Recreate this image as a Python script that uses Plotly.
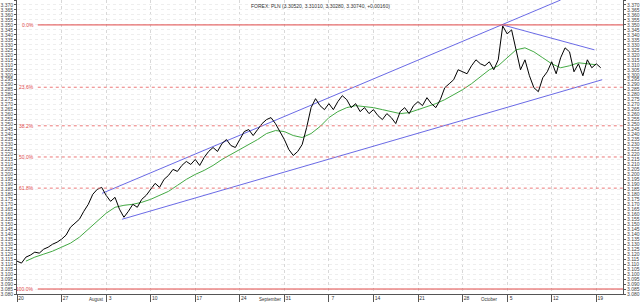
import pandas as pd
import plotly.graph_objects as go

title_text = "FOREX: PLN (3.30520, 3.31010, 3.30280, 3.30740, +0.00160)"

# price, two readings per trading day (00:00 and 12:00), from 20 Jul 2015
price = [
    3.113, 3.111, 3.117, 3.119, 3.122, 3.121, 3.125, 3.127, 3.130, 3.132,
    3.135, 3.139, 3.147, 3.151, 3.155, 3.163, 3.170, 3.180, 3.185, 3.187,
    3.179, 3.173, 3.177, 3.165, 3.157, 3.163, 3.170, 3.167, 3.175, 3.179,
    3.185, 3.191, 3.187, 3.195, 3.199, 3.205, 3.203, 3.209, 3.213, 3.210,
    3.215, 3.209, 3.217, 3.223, 3.227, 3.223, 3.231, 3.235, 3.229, 3.227,
    3.235, 3.243, 3.245, 3.239, 3.245, 3.251, 3.255, 3.257, 3.251, 3.243,
    3.235, 3.225, 3.219, 3.223, 3.230, 3.247, 3.267, 3.276, 3.269, 3.265,
    3.271, 3.265, 3.273, 3.279, 3.275, 3.267, 3.271, 3.263, 3.267, 3.261,
    3.265, 3.259, 3.255, 3.261, 3.257, 3.251, 3.263, 3.267, 3.261, 3.269,
    3.273, 3.269, 3.277, 3.271, 3.267, 3.275, 3.287, 3.291, 3.295, 3.305,
    3.303, 3.301, 3.309, 3.315, 3.311, 3.309, 3.313, 3.305, 3.315, 3.349,
    3.341, 3.345, 3.325, 3.305, 3.315, 3.299, 3.287, 3.283, 3.297, 3.303,
    3.313, 3.301, 3.317, 3.327, 3.323, 3.303, 3.311, 3.299, 3.315, 3.307,
    3.311, 3.307,
]

# moving average, one reading per trading day (00:00), from 21 Jul 2015
ma = [
    3.113, 3.117, 3.120, 3.123, 3.127, 3.131, 3.137, 3.145, 3.153, 3.161,
    3.167, 3.169, 3.170, 3.172, 3.175, 3.179, 3.183, 3.189, 3.195, 3.200,
    3.204, 3.209, 3.215, 3.220, 3.225, 3.230, 3.235, 3.241, 3.244, 3.243,
    3.239, 3.237, 3.241, 3.248, 3.257, 3.263, 3.267, 3.269, 3.268, 3.267,
    3.265, 3.263, 3.261, 3.262, 3.265, 3.268, 3.271, 3.275, 3.280, 3.285,
    3.291, 3.298, 3.305, 3.309, 3.317, 3.325, 3.327, 3.323, 3.317, 3.311,
    3.307, 3.309, 3.312, 3.311, 3.310,
]

week_ticks = ["2015-07-20", "2015-07-27", "2015-08-03", "2015-08-10", "2015-08-17",
              "2015-08-24", "2015-08-31", "2015-09-07", "2015-09-14", "2015-09-21",
              "2015-09-28", "2015-10-05", "2015-10-12", "2015-10-19"]
week_labels = ["20", "27", "3", "10", "17", "24", "31", "7", "14", "21", "28", "5", "12", "19"]
month_names = ["August", "September", "October"]
month_pos = ["2015-08-03", "2015-08-31", "2015-09-30"]
month_anchor = ["right", "right", "left"]

fib_ratios = [0.0, 0.236, 0.382, 0.5, 0.618, 1.0]
fib_labels = ["0.0%", "23.6%", "38.2%", "50.0%", "61.8%", "100.0%"]
fib_high, fib_low = 3.350, 3.085
fib_start, fib_end = "2015-07-22 08:00", "2015-10-22 00:00"

upper_x = ["2015-07-31 13:00", "2015-10-13 00:00"]
upper_y = [3.181, 3.375]
lower_x = ["2015-08-04 19:00", "2015-10-19 16:00"]
lower_y = [3.155, 3.295]
resist_x = ["2015-10-02 12:00", "2015-10-16 19:00"]
resist_y = [3.350, 3.325]

days = pd.bdate_range("2015-07-20", "2015-10-19")
price_t = [d + pd.Timedelta(hours=h) for d in days for h in (0, 12)][:len(price)]
ma_t = list(days[1:1 + len(ma)])

FONT = "Liberation Sans"
RED = "#e04848"
BLUE = "#6a6ae6"

fig = go.Figure()
fig.add_trace(go.Scatter(x=upper_x, y=upper_y, mode="lines", line=dict(color=BLUE, width=1), hoverinfo="skip"))
fig.add_trace(go.Scatter(x=lower_x, y=lower_y, mode="lines", line=dict(color=BLUE, width=1), hoverinfo="skip"))
fig.add_trace(go.Scatter(x=resist_x, y=resist_y, mode="lines", line=dict(color=BLUE, width=1), hoverinfo="skip"))
fig.add_trace(go.Scatter(x=ma_t, y=ma, mode="lines", line=dict(color="#44aa44", width=1)))
fig.add_trace(go.Scatter(x=price_t, y=price, mode="lines", line=dict(color="#000000", width=1)))
fig.add_trace(go.Scatter(x=price_t, y=price, mode="lines", yaxis="y2", opacity=0,
                         line=dict(width=0), hoverinfo="skip"))

for r, lab in zip(fib_ratios, fib_labels):
    lvl = fib_high - r * (fib_high - fib_low)
    solid = r in (0.0, 1.0)
    fig.add_shape(type="line", xref="x", yref="y", x0=fib_start, x1=fib_end, y0=lvl, y1=lvl,
                  line=dict(color=RED if solid else "#ec7a7a", width=1, dash="solid" if solid else "dot"))
    fig.add_annotation(x=fib_start, y=lvl, xref="x", yref="y", text=lab, showarrow=False,
                       xanchor="right", xshift=-2, font=dict(color=RED, size=5, family=FONT))

for name, pos, anc in zip(month_names, month_pos, month_anchor):
    fig.add_annotation(x=pos, y=0, xref="x", yref="paper", text=name, borderpad=0,
                       showarrow=False, xanchor=anc, yanchor="top", yshift=-1.5,
                       xshift=-1 if anc == "right" else 0,
                       font=dict(color="#333333", size=4.5, family=FONT))

fig.add_annotation(x=0.5, y=1, xref="paper", yref="paper", text=title_text, showarrow=False,
                   xanchor="center", yanchor="top", yshift=-1,
                   font=dict(color="#333333", size=5, family=FONT))

yax = dict(range=[3.080, 3.375], dtick=0.005, tick0=3.0, tickformat=".3f",
           tickfont=dict(size=5, family=FONT, color="#444444"),
           showgrid=True, gridcolor="#eeeeee", griddash="dot", gridwidth=1,
           showline=True, linecolor="#555555", linewidth=1,
           ticks="outside", ticklen=2, tickcolor="#555555", zeroline=False)

fig.update_layout(
    width=640, height=302,
    margin=dict(l=14, r=14, t=0, b=8),
    paper_bgcolor="white", plot_bgcolor="white",
    showlegend=False,
    xaxis=dict(range=["2015-07-20", "2015-10-22"], rangebreaks=[dict(bounds=["sat", "mon"])],
               tickvals=week_ticks, ticktext=week_labels,
               tickfont=dict(size=5, family=FONT, color="#333333"),
               ticks="outside", ticklen=7, tickcolor="#555555",
               ticklabelshift=4, ticklabelstandoff=-8,
               showgrid=True, gridcolor="#d8d8d8", griddash="dot",
               showline=True, linecolor="#555555", mirror=False, zeroline=False),
    yaxis=dict(side="right", **yax),
    yaxis2=dict(side="left", overlaying="y", matches="y", **yax),
)

fig.write_html("out.html")
